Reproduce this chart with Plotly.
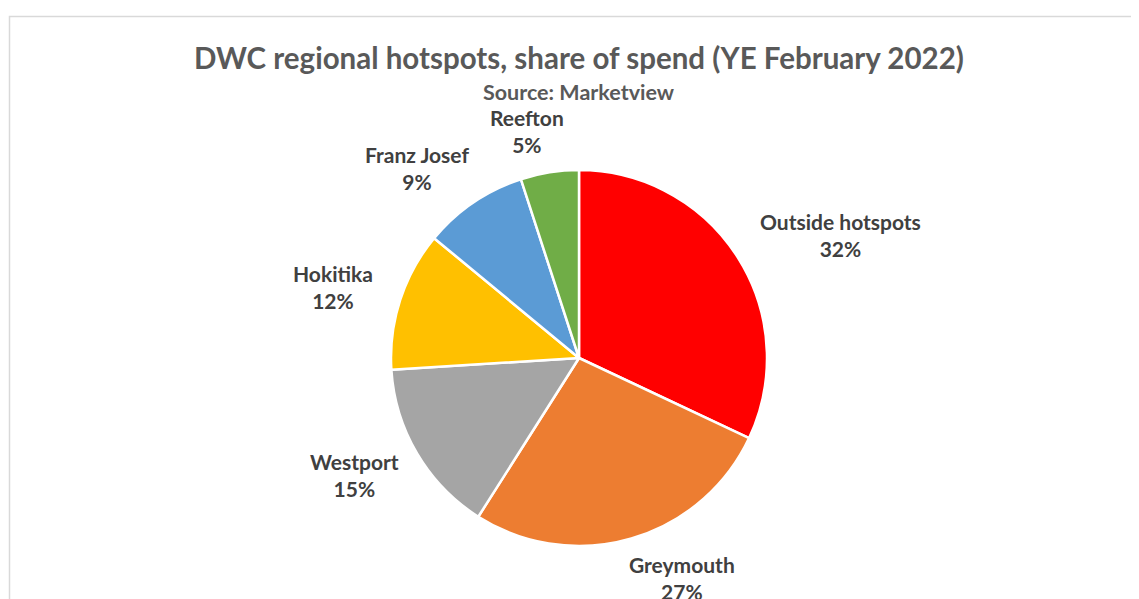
import math
import plotly.graph_objects as go

categories = ["Outside hotspots", "Greymouth", "Westport", "Hokitika", "Franz Josef", "Reefton"]
shares = [32, 27, 15, 12, 9, 5]
colors = ["#FF0000", "#ED7D31", "#A5A5A5", "#FFC000", "#5B9BD5", "#70AD47"]

W, H = 1139, 599
OFF = 8  # page body margin offset
cx, cy, r = 579 - OFF, 358 - OFF, 188

fig = go.Figure()
fig.add_trace(go.Pie(
    labels=categories, values=shares, sort=False, direction="clockwise", rotation=0,
    marker=dict(colors=colors, line=dict(color="white", width=2.5)),
    textinfo="none", hoverinfo="label+percent", showlegend=False,
    domain=dict(x=[(cx - r) / W, (cx + r) / W], y=[1 - (cy + r) / H, 1 - (cy - r) / H]),
))

# label placement derived from slice mid-angles
total = sum(shares)
cum = 0
annotations = []
fontsize = 21
for name, v in zip(categories, shares):
    mid = (cum + v / 2) / total * 2 * math.pi
    cum += v
    dx, dy = math.sin(mid), -math.cos(mid)
    hw = len(name) * fontsize * 0.25
    px = cx + 8 + dx * r * 1.28 + math.copysign(1, dx) * 0.6 * hw
    py = cy + dy * r * 1.22
    pct = round(v / total * 100)
    annotations.append(dict(
        x=px / W, y=1 - py / H, xref="paper", yref="paper",
        text=f"<b>{name}</b><br><b>{pct}%</b>", showarrow=False,
        xanchor="center", yanchor="middle", align="center",
        font=dict(family="Lato", size=fontsize, color="#404040"),
    ))

annotations.append(dict(
    x=(579 - OFF) / W, y=1 - (57 - OFF) / H, xref="paper", yref="paper",
    text="<b>DWC regional hotspots, share of spend (YE February 2022)</b>",
    showarrow=False, xanchor="center", yanchor="middle",
    font=dict(family="Lato", size=29.5, color="#595959"),
))
annotations.append(dict(
    x=(579 - OFF) / W, y=1 - (92 - OFF) / H, xref="paper", yref="paper",
    text="<b>Source: Marketview</b>",
    showarrow=False, xanchor="center", yanchor="middle",
    font=dict(family="Lato", size=21.5, color="#595959"),
))

fig.update_layout(
    width=W, height=H, margin=dict(l=0, r=0, t=0, b=0),
    paper_bgcolor="white", plot_bgcolor="white",
    annotations=annotations,
    shapes=[dict(type="rect", xref="paper", yref="paper",
                 x0=(9.5 - OFF) / W, x1=1.01, y0=-0.01, y1=1 - (16.5 - OFF) / H,
                 line=dict(color="#D9D9D9", width=1.5), fillcolor="rgba(0,0,0,0)")],
)

fig.write_html("out.html")
